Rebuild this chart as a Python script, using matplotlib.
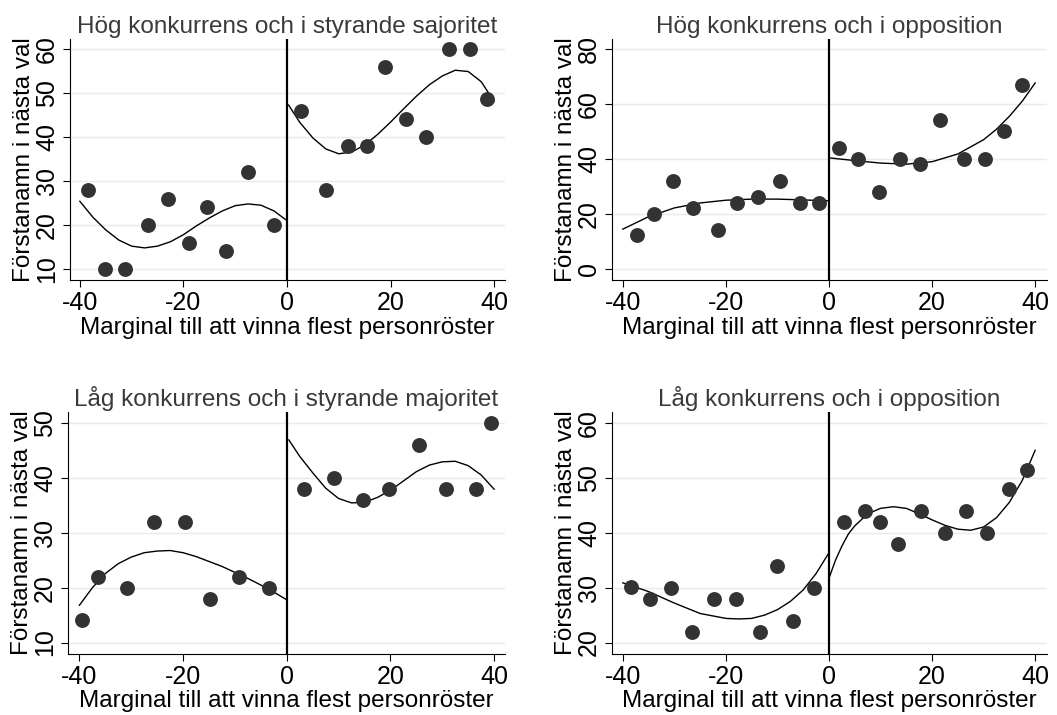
import numpy as np
import matplotlib.pyplot as plt

plt.rcParams['font.family'] = ['Liberation Sans', 'DejaVu Sans']

titles = ["Hög konkurrens och i styrande sajoritet",
          "Hög konkurrens och i opposition",
          "Låg konkurrens och i styrande majoritet",
          "Låg konkurrens och i opposition"]
xlabel = "Marginal till att vinna flest personröster"
ylabel = "Förstanamn i nästa val"

# binned means (dots)
p1_x = [-38.5, -35.2, -31.2, -26.8, -22.9, -19.0, -15.5, -11.8, -7.5, -2.6,
        2.7, 7.5, 11.7, 15.5, 18.9, 23.0, 26.9, 31.2, 35.4, 38.6]
p1_y = [28, 10, 10, 20, 26, 16, 24, 14, 32, 20,
        46, 28, 38, 38, 56, 44, 40, 60, 60, 48.7]
p2_x = [-37.3, -33.9, -30.3, -26.3, -21.6, -17.8, -13.7, -9.6, -5.6, -2.0,
        2.0, 5.7, 9.7, 13.7, 17.7, 21.6, 26.1, 30.3, 34.0, 37.4]
p2_y = [12.2, 20, 32, 22.2, 14, 24, 26, 32, 24, 24,
        44, 40, 28, 40, 38, 54, 40, 40, 50, 66.7]
p3_x = [-39.5, -36.5, -30.9, -25.7, -19.7, -14.75, -9.3, -3.5,
        3.4, 9.1, 14.8, 19.7, 25.6, 30.7, 36.6, 39.4]
p3_y = [14.2, 22, 20, 32, 32, 18, 22, 20,
        38, 40, 36, 38, 46, 38, 38, 50]
p4_x = [-38.4, -34.8, -30.7, -26.6, -22.4, -18.1, -13.4, -10.0, -6.9, -3.0,
        3.0, 7.0, 9.9, 13.4, 17.9, 22.5, 26.6, 30.6, 35.0, 38.4]
p4_y = [30.2, 28, 30, 22, 28, 28, 22, 34, 24, 30,
        42, 44, 42, 38, 44, 40, 44, 40, 48, 51.5]

# fitted curves (left / right of cutoff)
c1l_x = [-40, -37.5, -35, -32.5, -30, -27.5, -25, -22.5, -20, -17.5, -15, -12.5, -10, -7.5, -5, -2.5, 0]
c1l_y = [25.4, 21.8, 18.9, 16.6, 15.2, 14.8, 15.2, 16.2, 17.8, 19.8, 21.6, 23.2, 24.4, 24.8, 24.5, 23.2, 21.0]
c1r_x = [0.3, 2.5, 5, 7.5, 10, 12.5, 15, 17.5, 20, 22.5, 25, 27.5, 30, 32.5, 35, 37.5, 40]
c1r_y = [47.3, 43.3, 39.8, 37.3, 36.2, 36.6, 38.2, 40.6, 43.4, 46.4, 49.3, 51.9, 53.9, 55.2, 54.9, 52.6, 48.1]
c2l_x = [-40, -35, -30, -25, -20, -15, -10, -5, 0]
c2l_y = [14.5, 19.0, 22.2, 24.0, 25.0, 25.4, 25.4, 25.1, 24.8]
c2r_x = [0, 5, 10, 15, 20, 25, 30, 32.5, 35, 37.5, 40]
c2r_y = [40.4, 39.4, 38.5, 38.1, 39.0, 41.8, 47.0, 50.8, 55.5, 61.0, 67.6]
c3l_x = [-40, -37.5, -35, -32.5, -30, -27.5, -25, -22.5, -20, -17.5, -15, -12.5, -10, -7.5, -5, -2.5, 0]
c3l_y = [16.8, 20.0, 22.6, 24.4, 25.6, 26.4, 26.7, 26.8, 26.4, 25.7, 24.8, 23.9, 22.8, 21.7, 20.5, 19.2, 17.8]
c3r_x = [0.4, 2.5, 5, 7.5, 10, 12.5, 15, 17.5, 20, 22.5, 25, 27.5, 30, 32.5, 35, 37.5, 40]
c3r_y = [47.0, 44.0, 41.0, 38.2, 36.3, 35.5, 35.6, 36.5, 37.8, 39.5, 41.2, 42.4, 43.0, 43.1, 42.3, 40.6, 38.0]
c4l_x = [-40, -35, -30, -25, -20, -17.5, -15, -12.5, -10, -7.5, -5, -2.5, 0]
c4l_y = [30.9, 29.3, 27.2, 25.3, 24.4, 24.3, 24.4, 25.0, 26.0, 27.5, 29.6, 32.6, 36.4]
c4r_x = [0.1, 1.25, 2.5, 3.75, 5, 7.5, 10, 12.5, 15, 17.5, 20, 22.5, 25, 27.5, 30, 32.5, 35, 37.5, 40]
c4r_y = [32.0, 35.0, 37.6, 39.8, 41.3, 43.5, 44.5, 44.8, 44.5, 43.5, 42.4, 41.4, 40.7, 40.5, 41.1, 42.8, 45.6, 49.6, 55.1]

panels = [
    (p1_x, p1_y, c1l_x, c1l_y, c1r_x, c1r_y, [10, 20, 30, 40, 50, 60], (7.5, 62.3), (-41.9, 42.1)),
    (p2_x, p2_y, c2l_x, c2l_y, c2r_x, c2r_y, [0, 20, 40, 60, 80], (-4, 83.6), (-42.1, 42.3)),
    (p3_x, p3_y, c3l_x, c3l_y, c3r_x, c3r_y, [10, 20, 30, 40, 50], (7.9, 52.1), (-42.2, 42.1)),
    (p4_x, p4_y, c4l_x, c4l_y, c4r_x, c4r_y, [20, 30, 40, 50, 60], (17.9, 62.1), (-42.1, 42.3)),
]

W, H = 1057, 715
boxes = [(70, 39, 505, 280), (612, 39, 1047, 280),
         (68, 412, 505, 654), (612, 412, 1047, 654)]

fig = plt.figure(figsize=(W / 100, H / 100), dpi=100)
fig.patch.set_facecolor('white')

for i, (px, py, lx, ly, rx, ry, yt, ylim, xlim) in enumerate(panels):
    l, t, r, b = boxes[i]
    ax = fig.add_axes([l / W, 1 - b / H, (r - l) / W, (b - t) / H])
    for yv in yt:
        ax.axhline(yv, color='#eaeaea', lw=1, zorder=0)
    ax.axvline(0, color='black', lw=1.6, zorder=2)
    ax.plot(lx, ly, color='black', lw=1.0, zorder=3)
    ax.plot(rx, ry, color='black', lw=1.0, zorder=3)
    ax.scatter(px, py, s=115, color='#333333', zorder=4, linewidths=0)
    ax.set_xlim(xlim)
    ax.set_ylim(ylim)
    ax.set_xticks([-40, -20, 0, 20, 40])
    ax.set_xticklabels(['-40', '-20', '0', '20', '40'])
    ax.set_yticks(yt)
    ax.set_yticklabels([str(v) for v in yt], rotation=90, va='center')
    ax.tick_params(axis='both', labelsize=18, length=5, width=0.8, pad=3)
    ax.spines['top'].set_visible(False)
    ax.spines['right'].set_visible(False)
    ax.spines['left'].set_linewidth(0.8)
    ax.spines['bottom'].set_linewidth(0.8)
    ax.set_title(titles[i], fontsize=17.5, color='#3a3a3a', pad=4)
    ax.set_xlabel(xlabel, fontsize=17.5, labelpad=1)
    ax.set_ylabel(ylabel, fontsize=17.5, labelpad=0)

fig.savefig('out.png', dpi=100, facecolor='white')
